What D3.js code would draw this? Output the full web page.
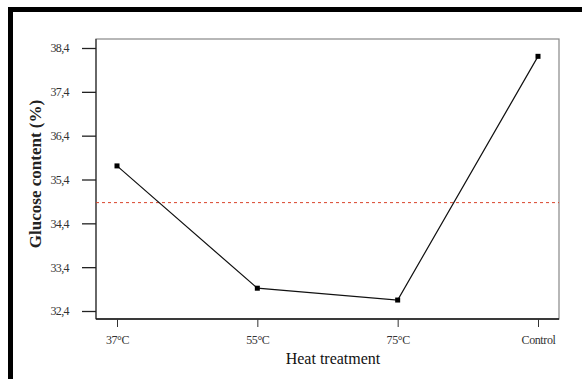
<!DOCTYPE html>
<html>
<head>
<meta charset="utf-8">
<script src="https://cdn.jsdelivr.net/npm/d3@7"></script>
<style>
  body { margin: 0; background: #fff; }
  svg { display: block; }
  text { font-family: "Liberation Serif", "DejaVu Serif", serif; }
</style>
</head>
<body>
<svg id="chart" width="582" height="379"></svg>
<script>
// data
const treatments = ['37°C', '55°C', '75°C', 'Control'];
const glucose = [35.71, 32.92, 32.65, 38.21];
const yTicks = [32.4, 33.4, 34.4, 35.4, 36.4, 37.4, 38.4];

const width = 582;
const height = 379;
const box = { left: 96, right: 559, top: 39, bottom: 319 };

const svg = d3.select('#chart');

// outer frame (thick black on left and top, cropped on right/bottom)
svg.append('rect').attr('x', 8).attr('y', 7).attr('width', 5).attr('height', height - 7).attr('fill', '#000');
svg.append('rect').attr('x', 8).attr('y', 7).attr('width', width - 8).attr('height', 5).attr('fill', '#000');

const x = d3.scalePoint().domain(treatments).range([117, 538]);
const y = d3.scaleLinear().domain([32.4, 38.4]).range([311, 48]);

// plot box
svg.append('rect')
  .attr('x', box.left)
  .attr('y', box.top)
  .attr('width', box.right - box.left)
  .attr('height', box.bottom - box.top)
  .attr('fill', 'none')
  .attr('stroke', '#888')
  .attr('stroke-width', 1.2);

// y axis
const yAxis = svg.append('g')
  .attr('transform', `translate(${box.left},0)`)
  .call(d3.axisLeft(y).tickValues(yTicks).tickSize(14).tickPadding(13)
    .tickFormat((d) => d3.format('.1f')(d).replace('.', ',')));
yAxis.select('.domain').attr('d', `M0,${box.top}V${box.bottom}`).attr('stroke', '#333').attr('stroke-width', 1.2);
yAxis.selectAll('.tick line').attr('stroke', '#222').attr('stroke-width', 1.3);
yAxis.selectAll('text').style('font-size', '12px').style('letter-spacing', '-0.6px').attr('fill', '#333');

// x axis
const xAxis = svg.append('g')
  .attr('transform', `translate(0,${box.bottom})`)
  .call(d3.axisBottom(x).tickSize(8).tickPadding(8));
xAxis.select('.domain').attr('d', `M${box.left},0H${box.right}`).attr('stroke', '#111').attr('stroke-width', 1.4);
xAxis.selectAll('.tick line').attr('stroke', '#333');
xAxis.selectAll('text').style('font-size', '12px').style('letter-spacing', '-0.4px').attr('fill', '#333');

// mean reference line
const mean = d3.mean(glucose);
svg.append('line')
  .attr('x1', box.left)
  .attr('x2', box.right)
  .attr('y1', y(mean))
  .attr('y2', y(mean))
  .attr('stroke', '#d9442b')
  .attr('stroke-width', 1)
  .attr('stroke-dasharray', '3,3');

// series line
const pts = treatments.map((t, i) => ({ t, v: glucose[i] }));
svg.append('path')
  .datum(pts)
  .attr('fill', 'none')
  .attr('stroke', '#111')
  .attr('stroke-width', 1.2)
  .attr('d', d3.line().x((d) => x(d.t)).y((d) => y(d.v)));

svg.append('g')
  .selectAll('rect')
  .data(pts)
  .join('rect')
  .attr('x', (d) => x(d.t) - 2.5)
  .attr('y', (d) => y(d.v) - 2.5)
  .attr('width', 5)
  .attr('height', 5)
  .attr('fill', '#000');

// axis titles
svg.append('text')
  .attr('x', 333)
  .attr('y', 364)
  .attr('text-anchor', 'middle')
  .style('font-size', '16px')
  .attr('fill', '#111')
  .text('Heat treatment');

svg.append('text')
  .attr('transform', `translate(41,${(box.top + box.bottom) / 2 - 5}) rotate(-90)`)
  .attr('text-anchor', 'middle')
  .style('font-size', '17px')
  .attr('font-weight', 'bold')
  .attr('fill', '#222')
  .text('Glucose content (%)');
</script>
</body>
</html>
